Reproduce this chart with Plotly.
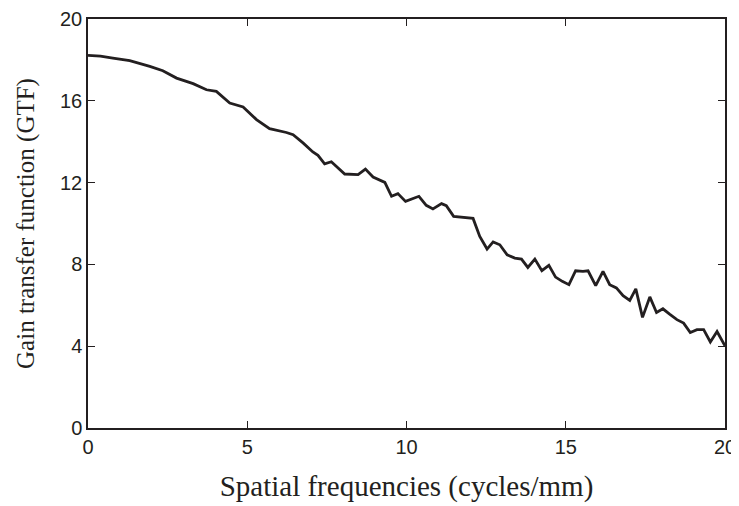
import plotly.graph_objects as go

freq = [0.0, 0.39, 0.78, 1.31, 1.94, 2.35, 2.78, 3.30, 3.72, 4.03, 4.45, 4.87, 5.29, 5.70,
        6.23, 6.44, 6.75, 7.06, 7.22, 7.43, 7.64, 7.85, 8.06, 8.48, 8.71, 8.95, 9.32,
        9.53, 9.73, 9.97, 10.39, 10.62, 10.83, 11.10, 11.25, 11.48, 11.77, 12.09, 12.30,
        12.53, 12.72, 12.93, 13.16, 13.40, 13.61, 13.81, 14.03, 14.25, 14.47, 14.68,
        14.89, 15.10, 15.31, 15.54, 15.70, 15.94, 16.17, 16.38, 16.59, 16.80, 17.01,
        17.20, 17.41, 17.64, 17.85, 18.05, 18.26, 18.49, 18.70, 18.91, 19.12, 19.33,
        19.54, 19.75, 20.0]
gtf = [18.22, 18.18, 18.09, 17.96, 17.68, 17.47, 17.11, 16.84, 16.54, 16.46, 15.89, 15.70,
       15.08, 14.64, 14.45, 14.34, 13.94, 13.50, 13.33, 12.92, 13.02, 12.74, 12.42, 12.39,
       12.66, 12.27, 12.01, 11.33, 11.46, 11.08, 11.33, 10.89, 10.71, 10.97, 10.87, 10.35,
       10.32, 10.25, 9.37, 8.75, 9.10, 8.96, 8.47, 8.31, 8.26, 7.85, 8.26, 7.69, 7.95,
       7.38, 7.17, 7.01, 7.69, 7.66, 7.69, 6.96, 7.66, 7.01, 6.85, 6.47, 6.24, 6.80,
       5.41, 6.41, 5.65, 5.83, 5.57, 5.30, 5.13, 4.67, 4.81, 4.81, 4.21, 4.72, 4.02]

fig = go.Figure()
fig.add_trace(go.Scatter(x=freq, y=gtf, mode='lines',
                         line=dict(color='#231f20', width=2.8), showlegend=False))

axis_style = dict(showline=True, linecolor='#231f20', linewidth=1.5, mirror='ticks',
                  ticks='inside', ticklen=7, tickwidth=1.3, tickcolor='#231f20',
                  showgrid=False, zeroline=False, automargin=False,
                  tickfont=dict(family='Liberation Sans, Arial', size=20, color='#231f20'))

fig.update_xaxes(range=[0, 20], tickvals=[0, 5, 10, 15, 20],
                 title=dict(text='Spatial frequencies (cycles/mm)',
                            font=dict(family='Liberation Serif, serif', size=29, color='#231f20'),
                            standoff=19),
                 **axis_style)
fig.update_yaxes(range=[0, 20], tickvals=[0, 4, 8, 12, 16, 20],
                 title=dict(text='Gain transfer function (GTF)',
                            font=dict(family='Liberation Serif, serif', size=25, color='#231f20'),
                            standoff=18),
                 **axis_style)

# page body adds an 8px offset, so the figure is sized to fit the window
fig.update_layout(width=731, height=498, plot_bgcolor='white', paper_bgcolor='white',
                  margin=dict(l=80, r=14, t=11, b=78))

fig.write_html("out.html")
